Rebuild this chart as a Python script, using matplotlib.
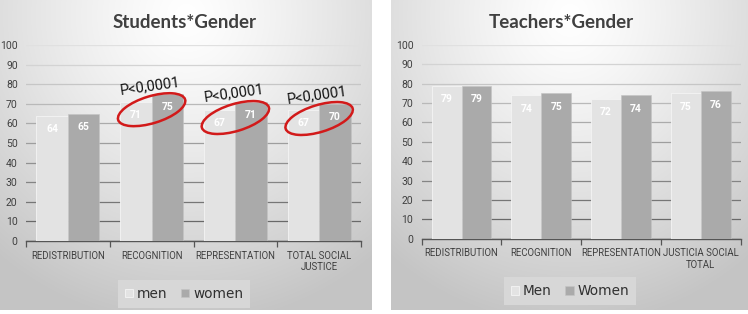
import numpy as np
import matplotlib
matplotlib.use("Agg")
import matplotlib.pyplot as plt
from matplotlib.patches import Ellipse
from matplotlib import transforms

# ---------------- data ----------------
students_categories = ["REDISTRIBUTION", "RECOGNITION", "REPRESENTATION", "TOTAL SOCIAL\nJUSTICE"]
students_men = [64, 71, 67, 67]
students_women = [65, 75, 71, 70]
students_series = ["men", "women"]
students_pvalues = [None, "P<0,0001", "P<0,0001", "P<0,0001"]

teachers_categories = ["REDISTRIBUTION", "RECOGNITION", "REPRESENTATION", "JUSTICIA SOCIAL\nTOTAL"]
teachers_men = [79, 74, 72, 75]
teachers_women = [79, 75, 74, 76]
teachers_series = ["Men", "Women"]

yticks = list(range(0, 101, 10))

# ---------------- style ----------------
W, H = 748, 314
MEN_C = "#e3e3e3"
WOMEN_C = "#aaaaaa"
TXT_C = "#404040"
NARROW = ["Roboto", "DejaVu Sans"]

fig = plt.figure(figsize=(W / 100, H / 100), dpi=100)
fig.patch.set_facecolor("white")

# background panels with radial gradient
bg = fig.add_axes([0, 0, 1, 1])
bg.set_xlim(0, W)
bg.set_ylim(H, 0)
bg.axis("off")


def gradient(w, h, cx=0.5, cy=0.05):
    yy, xx = np.mgrid[0:h, 0:w]
    xn = (xx / w - cx) / 0.8
    yn = (yy / h - cy) / 1.0
    r = np.clip(np.sqrt(xn ** 2 + yn ** 2), 0, 1)
    v = 1.0 - 0.23 * r ** 1.25
    return np.dstack([v, v, v])


for (x0, x1) in [(0, 372), (391, 748)]:
    img = gradient(x1 - x0, 310)
    bg.imshow(img, extent=(x0, x1, 310, 0), aspect="auto", zorder=0, interpolation="bilinear")


def px_axes(x0, x1, ytop, ybot):
    return fig.add_axes([x0 / W, (H - ybot) / H, (x1 - x0) / W, (ybot - ytop) / H])


def ax_left(ax):
    return ax.get_position().x0 * W


def ax_w(ax):
    return ax.get_position().width * W


def draw_panel(ax, title, title_x, categories, men, women, series, legend_x):
    ax.set_facecolor("none")
    x = np.arange(len(categories))
    bw = 0.375
    b1 = ax.bar(x - bw / 2, men, bw, color=MEN_C, edgecolor="#f4f4f4", linewidth=0.6, zorder=3, label=series[0])
    b2 = ax.bar(x + bw / 2, women, bw, color=WOMEN_C, edgecolor="#c4c4c4", linewidth=0.4, zorder=3, label=series[1])
    for bars, vals in [(b1, men), (b2, women)]:
        for rect, v in zip(bars, vals):
            ax.annotate(str(v), (rect.get_x() + rect.get_width() / 2, v), xytext=(0, -9.5),
                        textcoords="offset points", ha="center", va="center",
                        color="white", fontsize=7.5, fontweight="bold", zorder=5,
                        family=NARROW)
    ax.set_xlim(-0.5, len(categories) - 0.5)
    ax.set_ylim(0, 100)
    ax.set_yticks(yticks)
    ax.set_yticklabels([str(t) for t in yticks], fontsize=7.5, color=TXT_C, family=NARROW)
    ax.tick_params(axis="y", length=0, pad=6)
    ax.set_xticks(x)
    ax.set_xticklabels(categories, fontsize=6.9, color=TXT_C, family=NARROW, linespacing=1.2)
    ax.tick_params(axis="x", which="major", length=0, pad=7)
    ax.set_xticks(np.arange(len(categories) + 1) - 0.5, minor=True)
    ax.tick_params(axis="x", which="minor", length=4, color="#555555", width=0.9)
    for s in ["top", "right", "left"]:
        ax.spines[s].set_visible(False)
    ax.spines["bottom"].set_color("#555555")
    ax.spines["bottom"].set_linewidth(1.0)
    ax.yaxis.grid(True, zorder=1)
    ax.set_axisbelow(True)
    for gl, t in zip(ax.get_ygridlines(), yticks):
        f = t / 100.0
        c = 0.36 + (0.88 - 0.36) * f
        gl.set_color((c, c, c))
        gl.set_linewidth(0.9)
    # title
    bg.text(title_x, 23, title, ha="center", va="center", fontsize=13.5, fontweight="bold",
            color=TXT_C, family=["Lato", "DejaVu Sans"])
    # legend
    leg = ax.legend(loc="center", bbox_to_anchor=((legend_x - ax_left(ax)) / ax_w(ax), -0.27),
                    ncol=2, frameon=True, handlelength=0.6, handleheight=0.6,
                    handletextpad=0.3, columnspacing=1.0, borderpad=0.5,
                    prop={"family": ["DejaVu Sans"], "size": 9.8})
    fr = leg.get_frame()
    fr.set_facecolor("#d9d9d9")
    fr.set_edgecolor("none")
    fr.set_alpha(0.9)
    fr.set_boxstyle("square", pad=0.0)
    for t in leg.get_texts():
        t.set_color("#303030")
    return ax


axL = px_axes(26, 361, 45, 241)
draw_panel(axL, "Students*Gender", 185, students_categories, students_men, students_women,
           students_series, 184)

axR = px_axes(421.7, 740.7, 45, 238.7)
draw_panel(axR, "Teachers*Gender", 561, teachers_categories, teachers_men, teachers_women,
           teachers_series, 570)

# significance annotations on students panel
for i, p in enumerate(students_pvalues):
    if p is None:
        continue
    m, w = students_men[i], students_women[i]
    cy = (m + w) / 2 - 6
    trans = fig.dpi_scale_trans + transforms.ScaledTranslation(i, cy, axL.transData)
    e = Ellipse((0, 0), 0.70, 0.27, angle=17, transform=trans, fill=False,
                edgecolor="#d21a1a", linewidth=1.8, zorder=6, clip_on=False)
    axL.add_artist(e)
    axL.text(i - 0.02, max(m, w) + 4.2, p, ha="center", va="center", rotation=8,
             fontsize=10.5, color="#111111", zorder=7, family=NARROW)

fig.savefig("out.png", dpi=100)
